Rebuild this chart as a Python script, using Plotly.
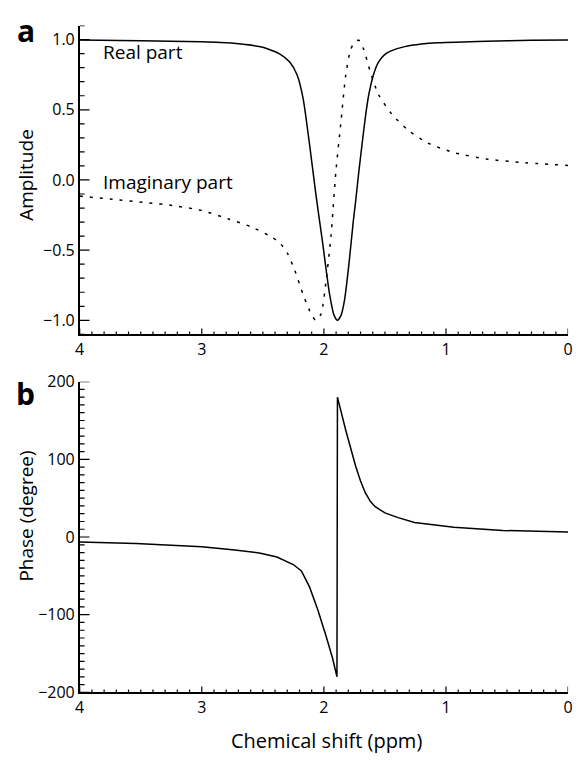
import numpy as np
import plotly.graph_objects as go

# ---- data ----
real_ppm = [4.0, 3.5, 3.0, 2.76, 2.5, 2.36, 2.28, 2.22, 2.17, 2.117, 2.063, 2.01, 1.956, 1.916,
            1.889, 1.86, 1.83, 1.795, 1.76, 1.741, 1.715, 1.688, 1.66, 1.634, 1.594, 1.553,
            1.50, 1.45, 1.338, 1.2, 1.07, 0.668, 0.3, 0.0]
real_amp = [0.997, 0.992, 0.984, 0.975, 0.945, 0.897, 0.84, 0.75, 0.58, 0.25, -0.12, -0.45, -0.80, -0.965,
            -1.0, -0.965, -0.85, -0.60, -0.30, -0.16, 0.05, 0.25, 0.45, 0.60, 0.75, 0.84,
            0.895, 0.92, 0.95, 0.968, 0.977, 0.989, 0.995, 0.997]

imag_ppm = [4.0, 3.73, 3.46, 3.22, 3.0, 2.787, 2.6, 2.44, 2.36, 2.30, 2.24, 2.17, 2.117, 2.068,
            2.023, 1.983, 1.942, 1.902, 1.862, 1.821, 1.781, 1.741, 1.714, 1.674, 1.62, 1.553,
            1.446, 1.312, 1.151, 0.936, 0.668, 0.40, 0.0]
imag_amp = [-0.115, -0.138, -0.161, -0.184, -0.218, -0.276, -0.333, -0.40, -0.45, -0.52, -0.64, -0.816,
            -0.931, -1.0, -0.954, -0.724, -0.40, 0.057, 0.40, 0.747, 0.931, 0.988, 0.995, 0.931,
            0.77, 0.609, 0.471, 0.356, 0.264, 0.195, 0.149, 0.126, 0.103]

phase_ppm = [4.0, 3.54, 3.0, 2.73, 2.519, 2.385, 2.251, 2.184, 2.117, 2.05, 1.983, 1.929, 1.893,
             1.889, 1.821, 1.741, 1.70, 1.661, 1.62, 1.58, 1.5, 1.392, 1.258, 0.936, 0.535, 0.0]
phase_deg = [-6.3, -8.3, -12.5, -16.6, -20.8, -25.8, -35.4, -43.7, -64.5, -93.7, -127, -156, -180,
             180, 137.5, 91.7, 72, 57, 46, 39, 31, 25, 18.8, 12.5, 8.4, 6.3]

# tick values
x_major = [4, 3, 2, 1, 0]
amp_major = [-1.0, -0.5, 0.0, 0.5, 1.0]
phase_major = [-200, -100, 0, 100, 200]
x_minor = [round(v, 2) for v in np.arange(0, 4.0001, 0.1)]
amp_minor = [round(v, 2) for v in np.arange(-1.1, 1.1001, 0.1)]
phase_minor = list(range(-200, 201, 10))

FONT = "Open Sans"
W, H = 579, 760

fig = go.Figure()
fig.add_trace(go.Scatter(x=real_ppm, y=real_amp, mode="lines", xaxis="x", yaxis="y",
                         line=dict(color="black", width=1.5, shape="spline", smoothing=0.6),
                         showlegend=False))
fig.add_trace(go.Scatter(x=imag_ppm, y=imag_amp, mode="lines", xaxis="x", yaxis="y",
                         line=dict(color="black", width=1.5, dash="3px,7px", shape="spline", smoothing=0.6),
                         showlegend=False))
fig.add_trace(go.Scatter(x=phase_ppm, y=phase_deg, mode="lines", xaxis="x2", yaxis="y2",
                         line=dict(color="black", width=1.5),
                         showlegend=False))

L, R = 76, 573
TOP1, BOT1 = 15, 333
TOP2, BOT2 = 381.7, 701.7
xd = [L / W, R / W]
top_dom = [1 - BOT1 / H, 1 - TOP1 / H]
bot_dom = [1 - BOT2 / H, 1 - TOP2 / H]

def xaxis(anchor):
    return dict(domain=xd, anchor=anchor, range=[4, 0], showline=True, linecolor="black", linewidth=1.5,
                tickmode="array", tickvals=x_major, ticktext=[str(v) for v in x_major],
                ticks="", showgrid=False, zeroline=False)

def yaxis(anchor, dom, rng, vals, texts):
    return dict(domain=dom, anchor=anchor, range=rng, showline=True, linecolor="black", linewidth=1.5,
                tickmode="array", tickvals=vals, ticktext=texts,
                ticks="", showgrid=False, zeroline=False)

fig.update_layout(
    width=W, height=H, margin=dict(l=0, r=0, t=0, b=0),
    plot_bgcolor="white", paper_bgcolor="white", showlegend=False,
    font=dict(family=FONT, size=16, color="black"),
    xaxis=xaxis("y"),
    xaxis2=xaxis("y2"),
    yaxis=yaxis("x", top_dom, [-1.1, 1.1], amp_major,
                ["\u22121.0", "\u22120.5", "0.0", "0.5", "1.0"]),
    yaxis2=yaxis("x2", bot_dom, [-200, 200], phase_major,
                 ["\u2212200", "\u2212100", "0", "100", "200"]),
)

# inward tick marks drawn as axis-anchored shapes
tick_line = dict(color="black", width=1.2)

def x_ticks(xref, yref, plot_h):
    for v in x_minor:
        is_major = any(abs(v - m) < 1e-9 for m in x_major)
        ln = 6 if is_major else 3
        fig.add_shape(type="line", xref=xref, yref=yref + " domain", x0=v, x1=v,
                      y0=0, y1=ln / plot_h, line=tick_line, layer="above")

def y_ticks(xref, yref, minor, major, plot_w):
    for v in minor:
        is_major = any(abs(v - m) < 1e-9 for m in major)
        ln = 10 if is_major else 5
        fig.add_shape(type="line", xref=xref + " domain", yref=yref, x0=0, x1=ln / plot_w,
                      y0=v, y1=v, line=tick_line, layer="above")

x_ticks("x", "y", BOT1 - TOP1)
x_ticks("x2", "y2", BOT2 - TOP2)
y_ticks("x", "y", amp_minor, amp_major, R - L)
y_ticks("x2", "y2", phase_minor, phase_major, R - L)

def ann(text, x, y, size, angle=0, bold=False, xanchor="center"):
    fig.add_annotation(text=("<b>%s</b>" % text) if bold else text, x=x / W, y=1 - y / H,
                       xref="paper", yref="paper", showarrow=False, textangle=angle,
                       xanchor=xanchor, yanchor="middle",
                       font=dict(family=FONT, size=size, color="black"))

ann("a", 21, 20, 30, bold=True)
ann("b", 21, 394, 30, bold=True)
ann("Amplitude", 21, 169, 19, angle=-90)
ann("Phase (degree)", 21, 520, 19, angle=-90)
ann("Chemical shift (ppm)", 327, 751, 20)
ann("Real part", 98, 42, 19, xanchor="left")
ann("Imaginary part", 98, 176, 19, xanchor="left")

fig.write_html("out.html")
